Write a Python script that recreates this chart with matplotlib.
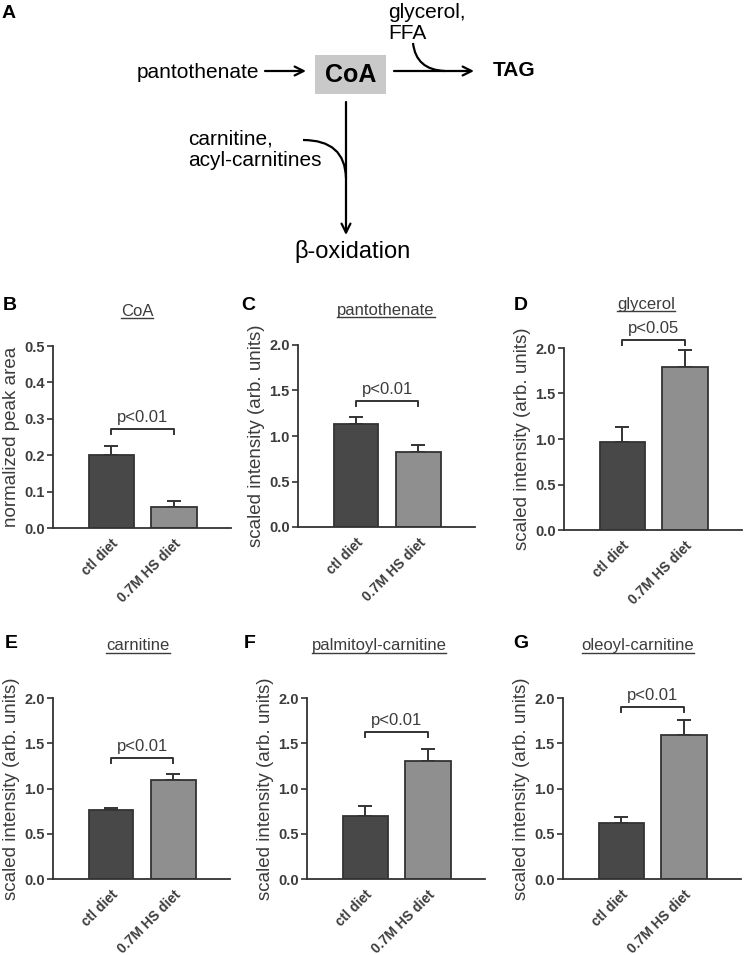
import numpy as np
import matplotlib
matplotlib.use("Agg")
import matplotlib.pyplot as plt
from matplotlib.path import Path
from matplotlib.patches import PathPatch, Rectangle

plt.rcParams['font.family'] = ['Liberation Sans', 'DejaVu Sans']

W, H = 744, 955
GREY = '#3c3c3c'

# data
groups = ['ctl diet', '0.7M HS diet']

coa_mean = [0.200, 0.059]
coa_err = [0.026, 0.015]
pan_mean = [1.13, 0.82]
pan_err = [0.08, 0.08]
gly_mean = [0.97, 1.79]
gly_err = [0.16, 0.19]
car_mean = [0.76, 1.09]
car_err = [0.02, 0.07]
pal_mean = [0.70, 1.30]
pal_err = [0.11, 0.14]
ole_mean = [0.62, 1.59]
ole_err = [0.065, 0.17]

titles = ['CoA', 'pantothenate', 'glycerol', 'carnitine',
          'palmitoyl-carnitine', 'oleoyl-carnitine']
letters = ['B', 'C', 'D', 'E', 'F', 'G']
ylabels = ['normalized peak area'] + ['scaled intensity (arb. units)'] * 5
pvals = ['p<0.01', 'p<0.01', 'p<0.05', 'p<0.01', 'p<0.01', 'p<0.01']
bracket_y = [0.272, 1.38, 2.09, 1.34, 1.62, 1.90]
ymax = [0.5, 2.0, 2.0, 2.0, 2.0, 2.0]

means = [coa_mean, pan_mean, gly_mean, car_mean, pal_mean, ole_mean]
errs = [coa_err, pan_err, gly_err, car_err, pal_err, ole_err]

# axes boxes in image pixels: left, top, right, bottom
boxes = [(53, 346, 231, 528), (298, 345, 475, 527), (564, 348, 742, 530),
         (53, 698, 230, 879), (307, 698, 485, 879), (563, 698, 741, 879)]
letter_pos = [(10, 305), (248, 305), (521, 305), (11, 643), (250, 643), (521, 643)]
title_pos = [(137, 316), (386, 315), (646, 309), (138, 650), (379, 650), (638, 650)]

fig = plt.figure(figsize=(W / 100, H / 100), dpi=100)

# overlay in pixel coordinates for the scheme and labels
ov = fig.add_axes([0, 0, 1, 1])
ov.set_xlim(0, W)
ov.set_ylim(H, 0)
ov.axis('off')

# ---- panel A: scheme
ov.text(9, 14, 'A', fontsize=14, fontweight='bold', ha='center', va='center')
ov.text(137, 72, 'pantothenate', fontsize=15, ha='left', va='center')
ov.add_patch(Rectangle((315, 55), 71, 39, facecolor='#c9c9c9', edgecolor='none'))
ov.text(350.5, 75, 'CoA', fontsize=18, fontweight='bold', ha='center', va='center')
ov.text(493, 71, 'TAG', fontsize=15, fontweight='bold', ha='left', va='center')
ov.text(388, 23, 'glycerol,\nFFA', fontsize=15, ha='left', va='center', linespacing=1.15)
ov.text(188, 150, 'carnitine,\nacyl-carnitines', fontsize=15, ha='left', va='center',
        linespacing=1.2)
ov.text(352, 251, 'β-oxidation', fontsize=17, ha='center', va='center')

arr = dict(arrowstyle='->', lw=1.6, color='k', mutation_scale=16, shrinkA=0, shrinkB=0)
ov.annotate('', xy=(306, 71), xytext=(265, 71), arrowprops=arr)
ov.annotate('', xy=(474, 71), xytext=(394, 71), arrowprops=arr)
ov.annotate('', xy=(346, 235), xytext=(346, 102), arrowprops=arr)

curve1 = Path([(413, 43), (416, 70), (445, 71)], [Path.MOVETO, Path.CURVE3, Path.CURVE3])
curve2 = Path([(303, 140), (345, 140), (346, 178)], [Path.MOVETO, Path.CURVE3, Path.CURVE3])
for c in (curve1, curve2):
    ov.add_patch(PathPatch(c, facecolor='none', edgecolor='k', lw=1.6))

# ---- bar panels
bar_colors = ['#484848', '#8f8f8f']
x = np.arange(len(groups))
title_texts = []

for i in range(6):
    l, t, r, b = boxes[i]
    ax = fig.add_axes([l / W, 1 - b / H, (r - l) / W, (b - t) / H])
    ax.bar(x, means[i], width=0.72, color=bar_colors, edgecolor='#333333',
           linewidth=1.3, zorder=2)
    ax.errorbar(x, means[i], yerr=[np.zeros(2), errs[i]], fmt='none',
                ecolor='#333333', elinewidth=1.4, capsize=5, capthick=1.4, zorder=1)
    ax.set_xlim(-0.93, 1.91)
    ax.set_ylim(0, ymax[i])
    ax.set_yticks(np.linspace(0, ymax[i], 5 if ymax[i] == 2.0 else 6))
    ax.yaxis.set_major_formatter(plt.FormatStrFormatter('%.1f'))
    ax.set_xticks(x)
    ax.set_xticklabels(groups, rotation=45, ha='right', rotation_mode='anchor')
    for s in ('top', 'right'):
        ax.spines[s].set_visible(False)
    for s in ('left', 'bottom'):
        ax.spines[s].set_color('#333333')
        ax.spines[s].set_linewidth(1.3)
    ax.tick_params(axis='y', direction='out', length=4, width=1.2, color='#333333',
                   labelsize=10.5, labelcolor=GREY, pad=2)
    ax.tick_params(axis='x', length=0, labelsize=10, labelcolor=GREY, pad=6)
    for lab in ax.get_xticklabels() + ax.get_yticklabels():
        lab.set_fontweight('bold')
    ax.set_ylabel(ylabels[i], fontsize=13.5, color=GREY, labelpad=3)
    ax.patch.set_visible(False)

    # significance bracket
    by = bracket_y[i]
    leg = ymax[i] * 0.027
    ax.plot([0, 0, 1, 1], [by - leg, by, by, by - leg], color='#333333', lw=1.4,
            clip_on=False)
    ax.annotate(pvals[i], xy=(0.5, by), xytext=(0, 3), textcoords='offset points',
                ha='center', va='bottom', fontsize=12, color=GREY,
                annotation_clip=False)

    lx, ly = letter_pos[i]
    ov.text(lx, ly, letters[i], fontsize=14, fontweight='bold', ha='center', va='center')
    tx, ty = title_pos[i]
    title_texts.append(ov.text(tx, ty, titles[i], fontsize=12, color=GREY,
                               ha='center', va='baseline'))

# underline the panel titles
fig.canvas.draw()
renderer = fig.canvas.get_renderer()
for tt in title_texts:
    bb = tt.get_window_extent(renderer)
    yy = H - bb.y0 - 0.5
    ov.plot([bb.x0, bb.x1], [yy, yy], color=GREY, lw=1.0)

fig.savefig('out.png', dpi=100)
